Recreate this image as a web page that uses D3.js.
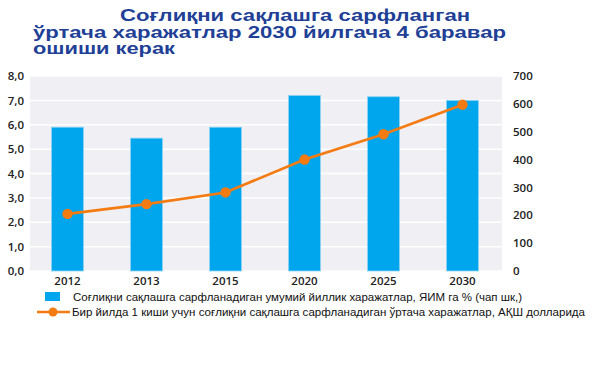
<!DOCTYPE html>
<html><head><meta charset="utf-8">
<script src="https://cdn.jsdelivr.net/npm/d3@7"></script>
<style>body{margin:0;background:#fff}svg{display:block}</style>
</head><body>
<svg id="c" width="610" height="383"></svg>
<script>
const years = ["2012","2013","2015","2020","2025","2030"];
const gdpShare = [5.9, 5.45, 5.9, 7.2, 7.15, 7.0];
const perCapita = [205, 240, 282, 400, 491, 597];
const leftTicks = [0,1,2,3,4,5,6,7,8];
const rightTicks = [0,100,200,300,400,500,600,700];
const titleLines = ["Соғлиқни сақлашга сарфланган","ўртача харажатлар 2030 йилгача 4 баравар","ошиши керак"];
const legendLabels = ["Соғлиқни сақлашга сарфланадиган умумий йиллик харажатлар, ЯИМ га % (чап шк,)","Бир йилда 1 киши учун соғлиқни сақлашга сарфланадиган ўртача харажатлар, АҚШ долларида"];

const svg = d3.select("#c");
const x0 = 28, x1 = 502, yTop = 76, yBot = 271;
const x = d3.scaleBand().domain(years).range([x0, x1]).paddingInner(0.595).paddingOuter(0.2975);
const yL = d3.scaleLinear().domain([0,8]).range([yBot, yTop]);
const yR = d3.scaleLinear().domain([0,700]).range([yBot, yTop]);

// title (reference text is horizontally stretched)
const tPos = [{x:120,y:21,w:350},{x:33,y:37.5,w:473},{x:33,y:54,w:142}];
svg.append("g").selectAll("text").data(titleLines).join("text")
  .attr("x", (d,i)=> tPos[i].x)
  .attr("y", (d,i)=> tPos[i].y)
  .attr("textLength",(d,i)=>tPos[i].w).attr("lengthAdjust","spacingAndGlyphs")
  .attr("font-family","Liberation Sans, Arial, sans-serif")
  .attr("font-weight","bold").attr("font-size",16)
  .attr("fill","#213f96").text(d=>d);

// plot background
svg.append("rect").attr("x",30).attr("y",yTop).attr("width",x1-30).attr("height",yBot-yTop).attr("fill","#f0eff3");
svg.append("g").selectAll("line").data(leftTicks).join("line")
  .attr("x1",30).attr("x2",x1).attr("y1",d=>yL(d)).attr("y2",d=>yL(d))
  .attr("stroke","#ffffff").attr("stroke-width",1.5);

// bars
svg.append("g").selectAll("rect").data(years).join("rect")
  .attr("x",d=>x(d)).attr("width",x.bandwidth())
  .attr("y",(d,i)=>yL(gdpShare[i])).attr("height",(d,i)=>yBot-yL(gdpShare[i]))
  .attr("fill","#00a6ed").attr("stroke","#8fd3f5").attr("stroke-width",0.8);

// line
const pts = years.map((d,i)=>[x(d)+x.bandwidth()/2, yR(perCapita[i])]);
svg.append("path").attr("d", d3.line()(pts)).attr("fill","none").attr("stroke","#f37b12").attr("stroke-width",2.6);
svg.append("g").selectAll("circle").data(pts).join("circle")
  .attr("cx",d=>d[0]).attr("cy",d=>d[1]).attr("r",5.2).attr("fill","#f37b12");

// axes
const fmtL = d=> d.toFixed(1).replace(".",",");
const la = svg.append("g").attr("transform",`translate(24,0)`).call(d3.axisLeft(yL).tickValues(leftTicks).tickFormat(fmtL).tickSize(0).tickPadding(0));
la.select(".domain").remove();
la.selectAll("text").attr("font-family","Open Sans, DejaVu Sans, sans-serif").attr("font-size",11.5).attr("font-weight",600).attr("fill","#222");
const ra = svg.append("g").attr("transform",`translate(513,0)`).call(d3.axisRight(yR).tickValues(rightTicks).tickSize(0).tickPadding(0));
ra.select(".domain").remove();
ra.selectAll("text").attr("font-family","Open Sans, DejaVu Sans, sans-serif").attr("font-size",11.5).attr("font-weight",600).attr("fill","#222");
const xa = svg.append("g").attr("transform",`translate(0,${yBot})`).call(d3.axisBottom(x).tickSize(0).tickPadding(6));
xa.select(".domain").remove();
xa.selectAll("text").attr("font-family","Open Sans, DejaVu Sans, sans-serif").attr("font-size",11.5).attr("font-weight",600).attr("fill","#222");

// legend
const lg = svg.append("g").attr("font-family","Liberation Sans, Arial, sans-serif").attr("font-size",10.5).attr("fill","#111");
lg.append("rect").attr("x",45).attr("y",292).attr("width",15).attr("height",9).attr("fill","#00a6ed");
lg.append("text").attr("x",73).attr("y",300.5).attr("textLength",449).attr("lengthAdjust","spacingAndGlyphs").text(legendLabels[0]);
lg.append("line").attr("x1",37).attr("x2",70).attr("y1",312).attr("y2",312).attr("stroke","#f37b12").attr("stroke-width",2.6);
lg.append("circle").attr("cx",53).attr("cy",312).attr("r",4.5).attr("fill","#f37b12");
lg.append("text").attr("x",72).attr("y",316).attr("textLength",513).attr("lengthAdjust","spacingAndGlyphs").text(legendLabels[1]);
</script>
</body></html>
